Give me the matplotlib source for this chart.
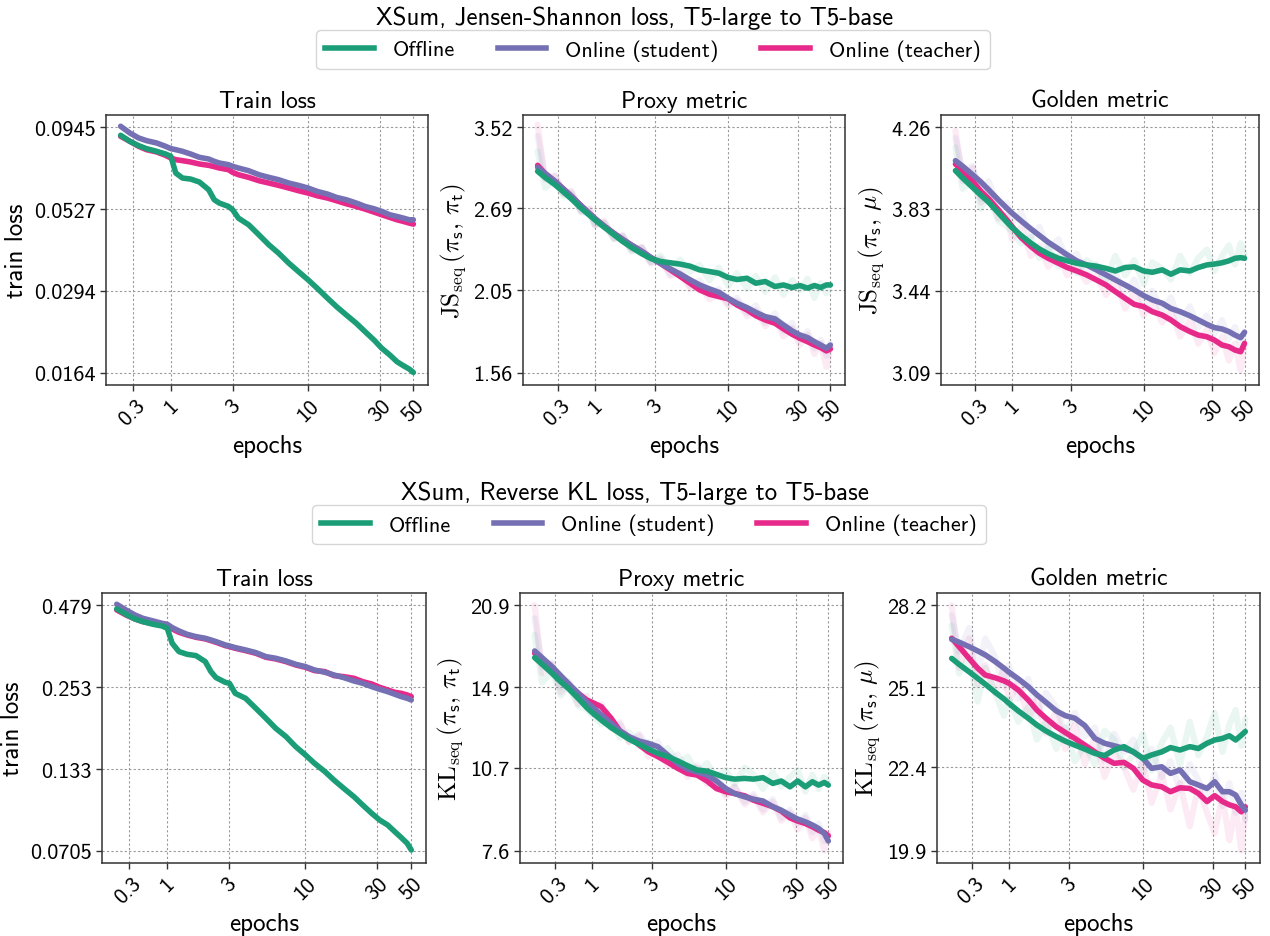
import numpy as np
import matplotlib
matplotlib.use('Agg')
import matplotlib.pyplot as plt
from matplotlib.ticker import FixedLocator, FixedFormatter, NullLocator
from matplotlib.lines import Line2D

plt.rcParams['font.family'] = ['cmss10', 'DejaVu Sans']
plt.rcParams['mathtext.fontset'] = 'cm'
plt.rcParams['axes.unicode_minus'] = False
plt.rcParams['axes.formatter.use_mathtext'] = True

# colours (Dark2)
c_off, c_stu, c_tea = '#1b9e77', '#7570b3', '#e7298a'
series_names = ['Offline', 'Online (student)', 'Online (teacher)']

# x grids (epochs)
epochs_train = [0.31, 0.4, 0.5, 0.6, 0.75, 0.9, 1.0, 1.1, 1.25, 1.45, 1.7, 2.0, 2.2, 2.4,
                2.8, 3.0, 3.3, 3.9, 4.6, 5.4, 6.3, 7.4, 8.6, 10, 11.5, 13.5, 15.5, 18, 21,
                24, 27.5, 31, 35, 39, 43, 47, 50]
epochs_eval = [0.235, 0.3, 0.4, 0.5, 0.6, 0.75, 0.9, 1.0, 1.2, 1.45, 1.7, 2.0, 2.4, 2.8,
               3.3, 3.9, 4.6, 5.4, 6.3, 7.4, 8.6, 10, 11.5, 13.5, 15.5, 18, 21, 24, 27.5,
               31, 35, 39, 43, 47, 50]
xtick_pos = [0.43, 1, 3, 10, 30, 50]
xtick_labels = ['0.3', '1', '3', '10', '30', '50']

# ---------------- XSum, Jensen-Shannon ----------------
js_train_off = [0.08925, 0.08550, 0.08288, 0.08114, 0.07960, 0.07810, 0.07681, 0.06817, 0.06578,
                0.06531, 0.06393, 0.06052, 0.05635, 0.05502, 0.05372, 0.05246, 0.04942, 0.04713,
                0.04388, 0.04085, 0.03848, 0.03583, 0.03375, 0.03181, 0.02997, 0.02790, 0.02628,
                0.02477, 0.02333, 0.02198, 0.02071, 0.01951, 0.01861, 0.01774, 0.01724, 0.01683,
                0.01643]
js_train_stu = [0.09518, 0.09075, 0.08756, 0.08591, 0.08448, 0.08250, 0.08114, 0.08055, 0.07960,
                0.07810, 0.07626, 0.07535, 0.07411, 0.07323, 0.07236, 0.07151, 0.07066, 0.06932,
                0.06737, 0.06610, 0.06500, 0.06347, 0.06243, 0.06125, 0.05981, 0.05867, 0.05729,
                0.05635, 0.05502, 0.05372, 0.05283, 0.05183, 0.05061, 0.05001, 0.04942, 0.04884,
                0.04884]
js_train_tea = [0.08861, 0.08550, 0.08250, 0.08055, 0.07922, 0.07736, 0.07590, 0.07500, 0.07447,
                0.07376, 0.07271, 0.07202, 0.07134, 0.07066, 0.06983, 0.06850, 0.06737, 0.06610,
                0.06454, 0.06347, 0.06243, 0.06125, 0.06009, 0.05909, 0.05798, 0.05702, 0.05595,
                0.05475, 0.05372, 0.05270, 0.05159, 0.05061, 0.04966, 0.04884, 0.04826, 0.04769,
                0.04735]

js_proxy_off = [3.042, 2.981, 2.910, 2.840, 2.778, 2.693, 2.628, 2.590, 2.528, 2.465, 2.411, 2.363,
                2.314, 2.278, 2.256, 2.246, 2.236, 2.221, 2.194, 2.182, 2.170, 2.139, 2.125, 2.134,
                2.099, 2.111, 2.076, 2.087, 2.069, 2.083, 2.065, 2.083, 2.069, 2.087, 2.087]
js_proxy_stu = [3.082, 3.021, 2.942, 2.868, 2.802, 2.714, 2.643, 2.602, 2.537, 2.476, 2.427, 2.381,
                2.332, 2.286, 2.241, 2.201, 2.163, 2.123, 2.087, 2.060, 2.037, 1.997, 1.964, 1.936,
                1.906, 1.879, 1.865, 1.828, 1.792, 1.768, 1.753, 1.729, 1.710, 1.692, 1.710]
js_proxy_tea = [3.103, 3.021, 2.942, 2.868, 2.802, 2.714, 2.643, 2.602, 2.537, 2.476, 2.427, 2.381,
                2.332, 2.286, 2.241, 2.194, 2.146, 2.099, 2.053, 2.024, 2.008, 1.993, 1.953, 1.921,
                1.885, 1.858, 1.838, 1.804, 1.772, 1.749, 1.729, 1.710, 1.695, 1.677, 1.688]
js_proxy_off_raw = [3.25, 2.88, 2.95, 2.80, 2.82, 2.66, 2.64, 2.55, 2.56, 2.43, 2.45, 2.33, 2.36, 2.25,
                    2.30, 2.20, 2.27, 2.18, 2.23, 2.12, 2.21, 2.08, 2.17, 2.06, 2.15, 2.04, 2.14, 2.02,
                    2.12, 2.05, 2.13, 2.00, 2.10, 2.03, 2.09]
js_proxy_stu_raw = [3.42, 2.98, 2.99, 2.83, 2.84, 2.67, 2.68, 2.55, 2.57, 2.44, 2.46, 2.35, 2.36, 2.25,
                    2.28, 2.16, 2.20, 2.08, 2.12, 2.02, 2.06, 1.96, 2.00, 1.90, 1.95, 1.84, 1.90, 1.79,
                    1.84, 1.74, 1.79, 1.69, 1.74, 1.65, 1.72]
js_proxy_tea_raw = [3.55, 2.96, 3.00, 2.82, 2.85, 2.66, 2.69, 2.54, 2.58, 2.43, 2.46, 2.34, 2.37, 2.24,
                    2.27, 2.15, 2.17, 2.06, 2.09, 1.99, 2.03, 1.95, 1.98, 1.88, 1.92, 1.82, 1.87, 1.76,
                    1.81, 1.71, 1.77, 1.66, 1.72, 1.59, 1.70]

js_gold_off = [4.025, 3.986, 3.938, 3.897, 3.863, 3.809, 3.763, 3.737, 3.698, 3.661, 3.633, 3.610,
               3.589, 3.577, 3.566, 3.558, 3.552, 3.542, 3.530, 3.546, 3.549, 3.530, 3.524, 3.535,
               3.515, 3.535, 3.530, 3.546, 3.558, 3.562, 3.568, 3.577, 3.589, 3.592, 3.589]
js_gold_stu = [4.078, 4.048, 4.004, 3.965, 3.926, 3.874, 3.832, 3.808, 3.769, 3.730, 3.698, 3.665,
               3.633, 3.605, 3.577, 3.558, 3.535, 3.512, 3.489, 3.466, 3.443, 3.418, 3.399, 3.384,
               3.361, 3.347, 3.329, 3.311, 3.292, 3.278, 3.272, 3.261, 3.246, 3.235, 3.258]
js_gold_tea = [4.060, 4.022, 3.969, 3.917, 3.880, 3.824, 3.774, 3.742, 3.688, 3.645, 3.613, 3.589,
               3.566, 3.546, 3.530, 3.512, 3.489, 3.466, 3.436, 3.406, 3.379, 3.369, 3.347, 3.332,
               3.311, 3.282, 3.261, 3.246, 3.239, 3.225, 3.204, 3.197, 3.183, 3.176, 3.211]
js_gold_off_raw = [4.15, 3.93, 3.98, 3.83, 3.90, 3.77, 3.74, 3.72, 3.66, 3.69, 3.59, 3.64, 3.55, 3.61,
                   3.52, 3.58, 3.55, 3.49, 3.60, 3.51, 3.58, 3.47, 3.57, 3.54, 3.49, 3.60, 3.52, 3.59,
                   3.63, 3.53, 3.60, 3.65, 3.56, 3.66, 3.61]
js_gold_stu_raw = [4.20, 4.02, 4.05, 3.88, 3.97, 3.84, 3.86, 3.76, 3.81, 3.69, 3.74, 3.63, 3.68, 3.58,
                   3.61, 3.51, 3.56, 3.47, 3.52, 3.43, 3.49, 3.38, 3.44, 3.35, 3.41, 3.30, 3.37, 3.28,
                   3.33, 3.25, 3.31, 3.23, 3.28, 3.21, 3.26]
js_gold_tea_raw = [4.24, 3.97, 4.04, 3.86, 3.93, 3.78, 3.80, 3.68, 3.74, 3.60, 3.65, 3.55, 3.60, 3.51,
                   3.55, 3.48, 3.51, 3.42, 3.49, 3.36, 3.44, 3.33, 3.39, 3.30, 3.35, 3.24, 3.31, 3.21,
                   3.27, 3.17, 3.24, 3.14, 3.21, 3.10, 3.20]

# ---------------- XSum, Reverse KL ----------------
rkl_train_off = [0.4655, 0.4465, 0.4305, 0.4217, 0.4130, 0.4076, 0.4003, 0.3560, 0.3336, 0.3267,
                 0.3233, 0.3085, 0.2854, 0.2723, 0.2625, 0.2605, 0.2409, 0.2317, 0.2143, 0.1982,
                 0.1833, 0.1718, 0.1589, 0.1489, 0.1395, 0.1307, 0.1224, 0.1147, 0.1075, 0.1007,
                 0.0944, 0.0896, 0.0862, 0.0818, 0.0781, 0.0747, 0.0709]
rkl_train_stu = [0.4827, 0.4619, 0.4442, 0.4328, 0.4239, 0.4162, 0.4130, 0.4024, 0.3920, 0.3819,
                 0.3750, 0.3702, 0.3654, 0.3607, 0.3514, 0.3487, 0.3442, 0.3380, 0.3310, 0.3208,
                 0.3167, 0.3101, 0.3022, 0.2967, 0.2891, 0.2839, 0.2780, 0.2723, 0.2653, 0.2605,
                 0.2538, 0.2486, 0.2441, 0.2391, 0.2348, 0.2317, 0.2287]
rkl_train_tea = [0.4619, 0.4442, 0.4305, 0.4217, 0.4151, 0.4108, 0.4076, 0.3982, 0.3879, 0.3799,
                 0.3731, 0.3683, 0.3635, 0.3588, 0.3496, 0.3469, 0.3424, 0.3362, 0.3293, 0.3192,
                 0.3150, 0.3085, 0.3006, 0.2952, 0.2876, 0.2854, 0.2766, 0.2744, 0.2709, 0.2639,
                 0.2591, 0.2525, 0.2473, 0.2428, 0.2409, 0.2378, 0.2348]

rkl_proxy_off = [16.84, 16.39, 15.79, 15.25, 14.84, 14.24, 13.70, 13.44, 13.02, 12.62, 12.33, 12.04,
                 11.78, 11.56, 11.35, 11.20, 11.00, 10.79, 10.60, 10.55, 10.41, 10.27, 10.21, 10.24,
                 10.21, 10.27, 10.03, 10.13, 9.89, 10.13, 9.89, 10.10, 9.96, 10.07, 9.96]
rkl_proxy_stu = [17.31, 16.84, 16.23, 15.64, 15.15, 14.54, 14.01, 13.76, 13.30, 12.85, 12.45, 12.16,
                 11.94, 11.83, 11.67, 11.27, 10.89, 10.64, 10.52, 10.38, 10.13, 9.82, 9.62, 9.49,
                 9.40, 9.33, 9.11, 8.98, 8.80, 8.66, 8.56, 8.45, 8.33, 8.16, 7.91]
rkl_proxy_tea = [17.15, 16.75, 16.16, 15.57, 15.09, 14.54, 14.14, 14.01, 13.76, 13.11, 12.45, 12.16,
                 11.75, 11.43, 11.20, 10.94, 10.67, 10.45, 10.38, 10.13, 9.82, 9.69, 9.62, 9.53,
                 9.36, 9.24, 9.11, 8.95, 8.70, 8.59, 8.50, 8.39, 8.27, 8.19, 8.08]
rkl_proxy_off_raw = [18.5, 15.2, 15.9, 14.4, 15.0, 13.8, 13.6, 13.3, 12.8, 12.9, 12.1, 12.4, 11.7, 11.9,
                     11.2, 11.6, 10.9, 11.2, 10.5, 10.9, 10.3, 10.6, 10.0, 10.7, 10.4, 9.8, 10.5, 9.9,
                     10.3, 10.6, 9.7, 10.4, 9.8, 10.3, 10.1]
rkl_proxy_stu_raw = [19.8, 16.2, 16.5, 14.9, 15.3, 14.2, 14.1, 13.4, 13.6, 12.6, 12.8, 11.9, 12.3, 11.6,
                     11.9, 11.0, 11.3, 10.5, 10.8, 10.2, 10.4, 9.6, 9.9, 9.3, 9.6, 9.0, 9.4, 8.7,
                     9.0, 8.5, 8.8, 8.2, 8.5, 7.9, 8.1]
rkl_proxy_tea_raw = [20.9, 15.8, 16.4, 14.6, 15.2, 13.9, 14.4, 13.5, 13.9, 12.6, 12.9, 11.9, 12.2, 11.2,
                     11.5, 10.8, 11.0, 10.3, 10.7, 10.0, 10.2, 9.5, 9.9, 9.2, 9.5, 8.9, 9.3, 8.6,
                     8.9, 8.3, 8.7, 8.0, 8.3, 7.6, 8.2]

rkl_gold_off = [26.15, 25.93, 25.66, 25.42, 25.21, 24.92, 24.69, 24.53, 24.27, 24.02, 23.79, 23.59,
                23.40, 23.25, 23.12, 22.99, 22.85, 22.78, 22.96, 23.07, 22.90, 22.69, 22.80, 22.90,
                23.04, 22.96, 23.07, 23.01, 23.18, 23.29, 23.34, 23.43, 23.29, 23.45, 23.57]
rkl_gold_stu = [26.87, 26.76, 26.59, 26.43, 26.28, 26.03, 25.79, 25.64, 25.40, 25.12, 24.83, 24.57,
                24.27, 24.11, 24.02, 23.77, 23.34, 23.18, 23.10, 23.01, 22.90, 22.69, 22.37, 22.42,
                22.21, 22.32, 21.95, 21.85, 21.74, 21.95, 21.64, 21.64, 21.54, 21.24, 21.08]
rkl_gold_tea = [26.91, 26.59, 26.15, 25.79, 25.54, 25.44, 25.33, 25.24, 25.00, 24.65, 24.30, 24.02,
                23.73, 23.54, 23.34, 23.12, 22.90, 22.69, 22.53, 22.56, 22.37, 22.00, 21.85, 21.79,
                21.64, 21.76, 21.74, 21.59, 21.34, 21.52, 21.34, 21.24, 21.18, 21.03, 21.18]
rkl_gold_off_raw = [27.4, 25.6, 26.2, 24.6, 25.8, 24.9, 24.1, 24.7, 23.9, 24.4, 23.3, 23.9, 23.0, 23.7,
                    22.6, 23.1, 22.5, 23.6, 23.3, 22.4, 22.8, 23.5, 22.3, 23.2, 23.7, 22.5, 23.9, 22.8,
                    23.4, 24.2, 22.9, 23.8, 24.3, 23.1, 24.0]
rkl_gold_stu_raw = [27.8, 26.4, 27.3, 25.6, 26.9, 26.2, 25.1, 25.9, 24.7, 25.4, 24.1, 24.9, 24.4, 23.5,
                    24.2, 23.4, 23.7, 22.6, 23.5, 22.9, 23.3, 22.2, 23.0, 22.1, 22.6, 21.7, 22.5, 22.0,
                    21.4, 22.2, 21.2, 21.9, 21.0, 21.6, 20.8]
rkl_gold_tea_raw = [28.2, 25.8, 26.9, 25.2, 25.9, 24.9, 25.8, 24.6, 25.3, 24.0, 24.7, 23.5, 24.3, 23.0,
                    23.8, 22.5, 23.4, 22.1, 22.9, 22.4, 21.7, 22.6, 21.3, 22.2, 21.1, 21.9, 20.6, 21.8,
                    21.0, 20.4, 21.5, 20.2, 21.2, 19.9, 21.0]

# y tick values (log spaced)
js_train_ticks = [0.0164, 0.0294, 0.0527, 0.0945]
js_proxy_ticks = [1.56, 2.05, 2.69, 3.52]
js_gold_ticks = [3.09, 3.44, 3.83, 4.26]
rkl_train_ticks = [0.0705, 0.133, 0.253, 0.479]
rkl_proxy_ticks = [7.6, 10.7, 14.9, 20.9]
rkl_gold_ticks = [19.9, 22.4, 25.1, 28.2]


def fwd(x):
    return np.log10(np.maximum(np.asarray(x, dtype=float) + 0.3, 1e-6))


def inv(y):
    return 10 ** np.asarray(y, dtype=float) - 0.3


def style_axes(ax, title, ylabel, ticks):
    ax.set_xscale('function', functions=(fwd, inv))
    ax.set_yscale('log')
    ax.xaxis.set_major_locator(FixedLocator(xtick_pos))
    ax.xaxis.set_major_formatter(FixedFormatter(xtick_labels))
    ax.xaxis.set_minor_locator(NullLocator())
    ax.yaxis.set_major_locator(FixedLocator(ticks))
    ax.yaxis.set_major_formatter(FixedFormatter([f'{t:g}' for t in ticks]))
    ax.yaxis.set_minor_locator(NullLocator())
    r = (ticks[-1] / ticks[0]) ** (1 / 3)
    ax.set_ylim(ticks[0] / r ** 0.15, ticks[-1] * r ** 0.15)
    ax.margins(x=0.05)
    ax.tick_params(axis='both', labelsize=16, length=4, width=1, color='#333333')
    ax.tick_params(axis='x', labelrotation=45)
    ax.grid(True, linestyle=(0, (2, 2)), color='#999999', linewidth=0.8)
    for s in ax.spines.values():
        s.set_color('#333333')
        s.set_linewidth(1.1)
    ax.set_title(title, fontsize=17, pad=6)
    ax.set_xlabel('epochs', fontsize=18)
    ax.set_ylabel(ylabel, fontsize=18, labelpad=4)


def draw_panel(ax, x, off, stu, tea, raws=None):
    if raws is not None:
        for vals, col in zip(raws, [c_tea, c_stu, c_off]):
            ax.plot(x, vals, color=col, lw=4.5, alpha=0.09, solid_capstyle='round')
    ax.plot(x, tea, color=c_tea, lw=4, solid_capstyle='round')
    ax.plot(x, stu, color=c_stu, lw=4, solid_capstyle='round')
    ax.plot(x, off, color=c_off, lw=4, solid_capstyle='round')


fig = plt.figure(figsize=(12.7, 9.37), dpi=100)
W, H = 1270.0, 937.0

# axes boxes in pixels: (left, top, right, bottom)
boxes_row1 = [(106, 116, 428, 386), (523, 116, 845, 386), (941, 116, 1259, 386)]
boxes_row2 = [(102, 594, 426, 864), (520, 594, 843, 864), (937, 594, 1260, 864)]


def make_ax(box):
    l, t, r, b = box
    return fig.add_axes([l / W, 1 - b / H, (r - l) / W, (b - t) / H])


js_lab = r'$\mathrm{JS}_{\mathrm{seq}}\,(\pi_{\mathsf{s}},\,\pi_{\mathsf{t}})$'
js_lab2 = r'$\mathrm{JS}_{\mathrm{seq}}\,(\pi_{\mathsf{s}},\,\mu)$'
kl_lab = r'$\mathrm{KL}_{\mathrm{seq}}\,(\pi_{\mathsf{s}},\,\pi_{\mathsf{t}})$'
kl_lab2 = r'$\mathrm{KL}_{\mathrm{seq}}\,(\pi_{\mathsf{s}},\,\mu)$'

# row 1
ax = make_ax(boxes_row1[0])
draw_panel(ax, epochs_train, js_train_off, js_train_stu, js_train_tea)
style_axes(ax, 'Train loss', 'train loss', js_train_ticks)
ax = make_ax(boxes_row1[1])
draw_panel(ax, epochs_eval, js_proxy_off, js_proxy_stu, js_proxy_tea,
           (js_proxy_tea_raw, js_proxy_stu_raw, js_proxy_off_raw))
style_axes(ax, 'Proxy metric', js_lab, js_proxy_ticks)
ax = make_ax(boxes_row1[2])
draw_panel(ax, epochs_eval, js_gold_off, js_gold_stu, js_gold_tea,
           (js_gold_tea_raw, js_gold_stu_raw, js_gold_off_raw))
style_axes(ax, 'Golden metric', js_lab2, js_gold_ticks)

# row 2
ax = make_ax(boxes_row2[0])
draw_panel(ax, epochs_train, rkl_train_off, rkl_train_stu, rkl_train_tea)
style_axes(ax, 'Train loss', 'train loss', rkl_train_ticks)
ax = make_ax(boxes_row2[1])
draw_panel(ax, epochs_eval, rkl_proxy_off, rkl_proxy_stu, rkl_proxy_tea,
           (rkl_proxy_tea_raw, rkl_proxy_stu_raw, rkl_proxy_off_raw))
style_axes(ax, 'Proxy metric', kl_lab, rkl_proxy_ticks)
ax = make_ax(boxes_row2[2])
draw_panel(ax, epochs_eval, rkl_gold_off, rkl_gold_stu, rkl_gold_tea,
           (rkl_gold_tea_raw, rkl_gold_stu_raw, rkl_gold_off_raw))
style_axes(ax, 'Golden metric', kl_lab2, rkl_gold_ticks)

# super titles + legends
handles = [Line2D([], [], color=c, lw=4) for c in (c_off, c_stu, c_tea)]
for title, ty, ly, lx in [('XSum, Jensen-Shannon loss, T5-large to T5-base', 18, 20, 653),
                          ('XSum, Reverse KL loss, T5-large to T5-base', 493, 495, 649)]:
    fig.text(0.5, 1 - ty / H, title, ha='center', va='center', fontsize=18)
    fig.legend(handles, series_names, loc='upper center', bbox_to_anchor=(lx / W, 1 - ly / H),
               ncol=3, fontsize=16, handlelength=2.2, handletextpad=0.85, columnspacing=1.9,
               frameon=True, edgecolor='#cccccc', fancybox=True)

plt.savefig('out.png', dpi=100)
plt.close()
